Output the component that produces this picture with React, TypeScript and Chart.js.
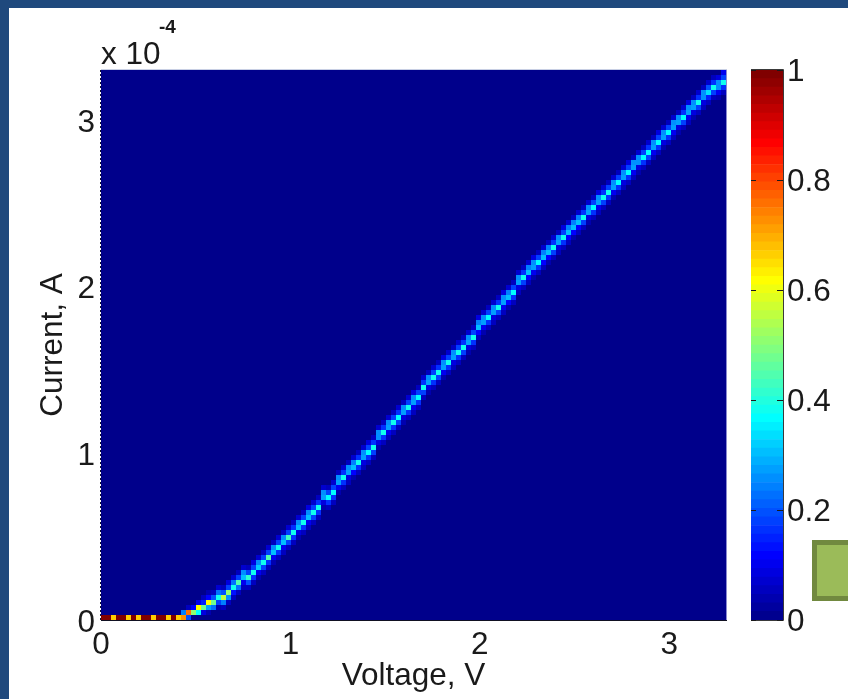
import React, { useEffect, useRef } from "react";
import { Chart, registerables } from "chart.js";

Chart.register(...registerables);

// Axis ticks
const voltageTicks = [0, 1, 2, 3];
const currentTicks = [0, 1, 2, 3];
const colorbarTicks = [0, 0.2, 0.4, 0.6, 0.8, 1];
const axisMax = 3.3;
const voltageBin = 0.0264; // V per histogram column
const currentBin = 0.03; // 1e-4 A per histogram row

// Bottom row (current about 0), columns 0..16, intensity in percent
const baseRow = [100, 100, 66, 100, 100, 66, 100, 66, 100, 100, 66, 100, 100, 66, 100, 66, 72];

// Ridge, columns 17..124
const ridgeRow = [
  1, 1, 2, 2, 3, 3, 4, 4, 5, 6,
  7, 8, 8, 9, 10, 11, 12, 13, 14, 15,
  16, 17, 18, 19, 20, 21, 22, 24, 24, 25,
  27, 28, 29, 30, 31, 32, 33, 34, 36, 37,
  38, 39, 40, 41, 42, 43, 44, 46, 47, 48,
  49, 50, 51, 52, 53, 54, 55, 56, 58, 59,
  60, 61, 62, 63, 64, 65, 67, 68, 69, 70,
  71, 72, 73, 74, 75, 76, 77, 78, 79, 80,
  81, 82, 83, 84, 85, 86, 87, 88, 89, 90,
  91, 92, 93, 94, 95, 96, 97, 98, 99, 100,
  101, 102, 103, 104, 105, 106, 106, 107,
];
const ridgeCore = [
  75, 50, 62, 48, 62, 47, 38, 55, 50, 38,
  45, 30, 42, 38, 32, 38, 45, 30, 38, 30,
  43, 38, 30, 38, 30, 38, 38, 28, 36, 36,
  28, 38, 28, 30, 38, 28, 36, 38, 26, 38,
  28, 38, 37, 28, 38, 27, 36, 38, 28, 38,
  38, 27, 38, 27, 38, 38, 27, 38, 30, 28,
  37, 28, 38, 28, 30, 37, 28, 38, 30, 28,
  37, 30, 30, 38, 28, 38, 30, 30, 30, 38,
  28, 37, 28, 38, 38, 27, 36, 28, 36, 27,
  26, 36, 36, 27, 37, 27, 36, 28, 28, 37,
  28, 27, 38, 26, 34, 38, 26, 38,
];
const ridgeUpper = [
  5, 12, 10, 15, 12, 20, 22, 20, 18, 22,
  18, 25, 18, 18, 25, 18, 18, 25, 18, 25,
  18, 17, 25, 18, 25, 18, 17, 25, 18, 18,
  25, 17, 25, 24, 17, 25, 18, 17, 25, 17,
  25, 18, 17, 25, 18, 25, 18, 17, 25, 18,
  17, 25, 18, 25, 18, 17, 25, 18, 24, 25,
  18, 25, 17, 25, 24, 18, 25, 17, 24, 25,
  18, 24, 24, 17, 25, 18, 24, 24, 24, 17,
  25, 18, 25, 17, 18, 25, 18, 25, 18, 25,
  25, 18, 17, 25, 18, 25, 18, 25, 25, 17,
  25, 25, 17, 25, 19, 17, 25, 18,
];
const ridgeLower = [
  20, 0, 37, 8, 28, 22, 18, 24, 26, 14,
  22, 10, 20, 16, 10, 18, 16, 10, 16, 10,
  18, 17, 9, 17, 10, 18, 16, 9, 17, 17,
  10, 16, 9, 11, 17, 9, 16, 18, 9, 17,
  10, 16, 18, 9, 17, 10, 16, 18, 9, 17,
  18, 10, 17, 9, 16, 18, 9, 17, 12, 10,
  17, 9, 18, 10, 12, 17, 9, 18, 12, 10,
  17, 12, 11, 18, 9, 17, 12, 11, 12, 18,
  9, 17, 10, 18, 16, 10, 17, 9, 16, 10,
  9, 17, 18, 10, 16, 9, 17, 10, 9, 18,
  10, 9, 18, 9, 15, 18, 10, 16,
];
const ridgeUpperFar = [
  0, 0, 0, 5, 4, 6, 7, 6, 8, 7,
  6, 7, 6, 8, 7, 6, 7, 6, 7, 6,
  7, 6, 7, 6, 8, 7, 6, 7, 6, 7,
  6, 7, 6, 7, 6, 7, 8, 6, 7, 6,
  7, 6, 7, 6, 7, 8, 6, 7, 6, 7,
  6, 8, 7, 6, 7, 6, 7, 6, 8, 7,
  6, 7, 6, 8, 7, 6, 7, 6, 7, 8,
  6, 7, 6, 7, 6, 8, 7, 6, 7, 6,
  7, 6, 8, 7, 6, 7, 6, 7, 8, 6,
  7, 6, 7, 6, 8, 7, 6, 7, 6, 7,
  8, 6, 7, 6, 7, 6, 8, 10,
];
const ridgeLowerFar = [
  0, 0, 0, 0, 4, 0, 4, 5, 6, 5,
  6, 5, 6, 5, 4, 6, 5, 4, 6, 5,
  6, 5, 4, 6, 5, 6, 5, 4, 6, 5,
  4, 6, 5, 4, 6, 5, 6, 5, 4, 6,
  5, 6, 5, 4, 6, 5, 6, 5, 4, 6,
  5, 4, 6, 5, 6, 5, 4, 6, 5, 4,
  6, 5, 6, 5, 4, 6, 5, 6, 5, 4,
  6, 5, 4, 6, 5, 6, 5, 4, 5, 6,
  4, 6, 5, 6, 5, 4, 6, 5, 6, 5,
  4, 6, 5, 5, 6, 4, 6, 5, 4, 6,
  5, 4, 6, 5, 5, 6, 4, 6,
];

const levels = 64;
const ridgeStart = 17;
const FONT = "'Liberation Sans', Arial, sans-serif";
const FONT_SIZE = 31.5;
const INK = "#1a1a1a";

function jet(v: number): string {
  const i = Math.min(levels - 1, Math.floor(v * levels));
  const t = (i + 1) / levels;
  const c = (a: number) => Math.round(255 * Math.max(0, Math.min(1, a)));
  const r = c(Math.min(4 * t - 1.5, -4 * t + 4.5));
  const g = c(Math.min(4 * t - 0.5, -4 * t + 3.5));
  const b = c(Math.min(4 * t + 0.5, -4 * t + 2.5));
  return `rgb(${r},${g},${b})`;
}

type Cell = { x: number; y: number; v: number };

function buildCells(): Cell[] {
  const cells: Cell[] = [];
  const add = (col: number, row: number, pct: number) => {
    if (pct > 0 && row >= 0) {
      cells.push({ x: (col + 0.5) * voltageBin, y: (row + 0.5) * currentBin, v: pct / 100 });
    }
  };
  baseRow.forEach((pct, col) => add(col, 0, pct));
  add(16, 1, 24);
  ridgeRow.forEach((row, i) => {
    const col = i + ridgeStart;
    add(col, row, ridgeCore[i]);
    add(col, row + 1, ridgeUpper[i]);
    add(col, row - 1, ridgeLower[i]);
    add(col, row + 2, ridgeUpperFar[i]);
    add(col, row - 2, ridgeLowerFar[i]);
  });
  return cells;
}

const heatFrame = {
  id: "heatFrame",
  beforeDatasetsDraw(chart: any) {
    const { ctx, chartArea: a } = chart;
    ctx.save();
    ctx.fillStyle = "#00008b";
    ctx.fillRect(a.left, a.top, a.right - a.left, a.bottom - a.top);
    ctx.restore();
  },
  afterDatasetsDraw(chart: any) {
    const { ctx, chartArea: a } = chart;
    ctx.save();
    ctx.lineWidth = 1;
    ctx.strokeStyle = "#c8cfe4";
    ctx.beginPath();
    ctx.moveTo(a.left, a.top - 0.5);
    ctx.lineTo(a.right + 1, a.top - 0.5);
    ctx.stroke();
    ctx.strokeStyle = "#8a8ad0";
    ctx.beginPath();
    ctx.moveTo(a.right + 0.5, a.top);
    ctx.lineTo(a.right + 0.5, a.bottom);
    ctx.stroke();
    ctx.strokeStyle = "#111122";
    ctx.beginPath();
    ctx.moveTo(a.left, a.bottom + 0.5);
    ctx.lineTo(a.right + 1, a.bottom + 0.5);
    ctx.stroke();
    ctx.setLineDash([2, 2]);
    ctx.strokeStyle = "#101030";
    ctx.beginPath();
    ctx.moveTo(a.left - 0.5, a.top);
    ctx.lineTo(a.left - 0.5, a.bottom);
    ctx.stroke();
    ctx.setLineDash([]);
    ctx.fillStyle = INK;
    ctx.textBaseline = "alphabetic";
    ctx.textAlign = "left";
    ctx.font = `${FONT_SIZE}px ${FONT}`;
    ctx.fillText("x 10", a.left, 64);
    ctx.font = `bold 19px ${FONT}`;
    ctx.fillText("-4", 159, 33);
    ctx.restore();
  },
};

const colorbarFrame = {
  id: "colorbarFrame",
  afterDatasetsDraw(chart: any) {
    const { ctx, chartArea: a, scales } = chart;
    ctx.save();
    ctx.lineWidth = 1;
    ctx.strokeStyle = "#3a3a3a";
    ctx.beginPath();
    ctx.moveTo(a.left, a.top - 0.5);
    ctx.lineTo(a.right + 0.5, a.top - 0.5);
    ctx.lineTo(a.right + 0.5, a.bottom + 0.5);
    ctx.lineTo(a.left, a.bottom + 0.5);
    ctx.stroke();
    ctx.strokeStyle = "#1a1a1a";
    colorbarTicks.forEach((t) => {
      const y = Math.round(scales.y.getPixelForValue(t)) + 0.5;
      ctx.beginPath();
      ctx.moveTo(a.left, y);
      ctx.lineTo(a.left + 5, y);
      ctx.moveTo(a.right - 6, y);
      ctx.lineTo(a.right, y);
      ctx.stroke();
    });
    ctx.restore();
  },
};

export default function App() {
  const heatRef = useRef<HTMLCanvasElement>(null);
  const barRef = useRef<HTMLCanvasElement>(null);

  useEffect(() => {
    const heat = new Chart(heatRef.current as HTMLCanvasElement, {
      type: "scatter",
      data: {
        datasets: [
          {
            data: buildCells() as any,
            pointStyle: "rect",
            pointRadius: 3.5356,
            pointBorderWidth: 0,
            pointBackgroundColor: (c: any) => jet(c.raw ? c.raw.v : 0),
          } as any,
        ],
      },
      options: {
        responsive: false,
        animation: false,
        layout: { padding: 0 },
        plugins: { legend: { display: false }, tooltip: { enabled: false } },
        scales: {
          x: {
            type: "linear",
            min: 0,
            max: axisMax,
            afterBuildTicks: (s: any) => {
              s.ticks = voltageTicks.map((value) => ({ value }));
            },
            afterFit: (s: any) => {
              s.height = 79;
            },
            grid: { display: false, drawTicks: false },
            border: { display: false },
            ticks: { color: INK, font: { family: FONT, size: FONT_SIZE }, padding: 6, maxRotation: 0, autoSkip: false },
            title: {
              display: true,
              text: "Voltage, V",
              color: INK,
              font: { family: FONT, size: FONT_SIZE },
              padding: { top: 0, bottom: 4 },
            },
          },
          y: {
            type: "linear",
            min: 0,
            max: axisMax,
            afterBuildTicks: (s: any) => {
              s.ticks = currentTicks.map((value) => ({ value }));
            },
            afterFit: (s: any) => {
              s.width = 101;
            },
            grid: { display: false, drawTicks: false },
            border: { display: false },
            ticks: { color: INK, font: { family: FONT, size: FONT_SIZE }, padding: 6, labelOffset: 3, autoSkip: false },
            title: {
              display: true,
              text: "Current, A",
              color: INK,
              font: { family: FONT, size: FONT_SIZE },
              padding: { top: 34, bottom: 0 },
            },
          },
        },
      } as any,
      plugins: [
        heatFrame,
        {
          id: "fixArea",
          beforeLayout(chart: any) {
            chart.options.layout.padding = { left: 0, top: 70, right: 122, bottom: 0 };
          },
        },
      ],
    });

    const steps = Array.from({ length: levels }, (_, i) => i);
    const bar = new Chart(barRef.current as HTMLCanvasElement, {
      type: "bar",
      data: {
        labels: ["level"],
        datasets: steps.map((i) => ({
          data: [1 / levels],
          backgroundColor: jet((i + 0.5) / levels),
          borderWidth: 0,
          categoryPercentage: 1,
          barPercentage: 1,
          stack: "s",
        })),
      },
      options: {
        responsive: false,
        animation: false,
        layout: { padding: { left: 751, top: 70, right: 0, bottom: 79 } },
        plugins: { legend: { display: false }, tooltip: { enabled: false } },
        scales: {
          x: { display: false, stacked: true },
          y: {
            position: "right",
            stacked: true,
            min: 0,
            max: 1,
            afterBuildTicks: (s: any) => {
              s.ticks = colorbarTicks.map((value) => ({ value }));
            },
            afterFit: (s: any) => {
              s.width = 65;
            },
            grid: { display: false, drawTicks: false },
            border: { display: false },
            ticks: {
              color: INK,
              font: { family: FONT, size: FONT_SIZE },
              padding: 4,
              labelOffset: 2,
              autoSkip: false,
              callback: (v: any) => String(v),
            },
          },
        },
      } as any,
      plugins: [colorbarFrame],
    });

    return () => {
      heat.destroy();
      bar.destroy();
    };
  }, []);

  const layer: React.CSSProperties = { position: "absolute", left: 0, top: 0 };
  return (
    <div style={{ position: "fixed", left: 0, top: 0, width: 848, height: 699, overflow: "hidden", background: "#1f497d" }}>
      <div style={{ position: "absolute", left: 9, top: 8, width: 839, height: 691, background: "#fff" }} />
      <canvas ref={heatRef} width={848} height={699} style={layer} />
      <canvas ref={barRef} width={848} height={699} style={layer} />
      <div
        style={{
          position: "absolute",
          left: 812,
          top: 540,
          width: 70,
          height: 61,
          boxSizing: "border-box",
          background: "#9bbb59",
          border: "5px solid #71893f",
        }}
      />
    </div>
  );
}
